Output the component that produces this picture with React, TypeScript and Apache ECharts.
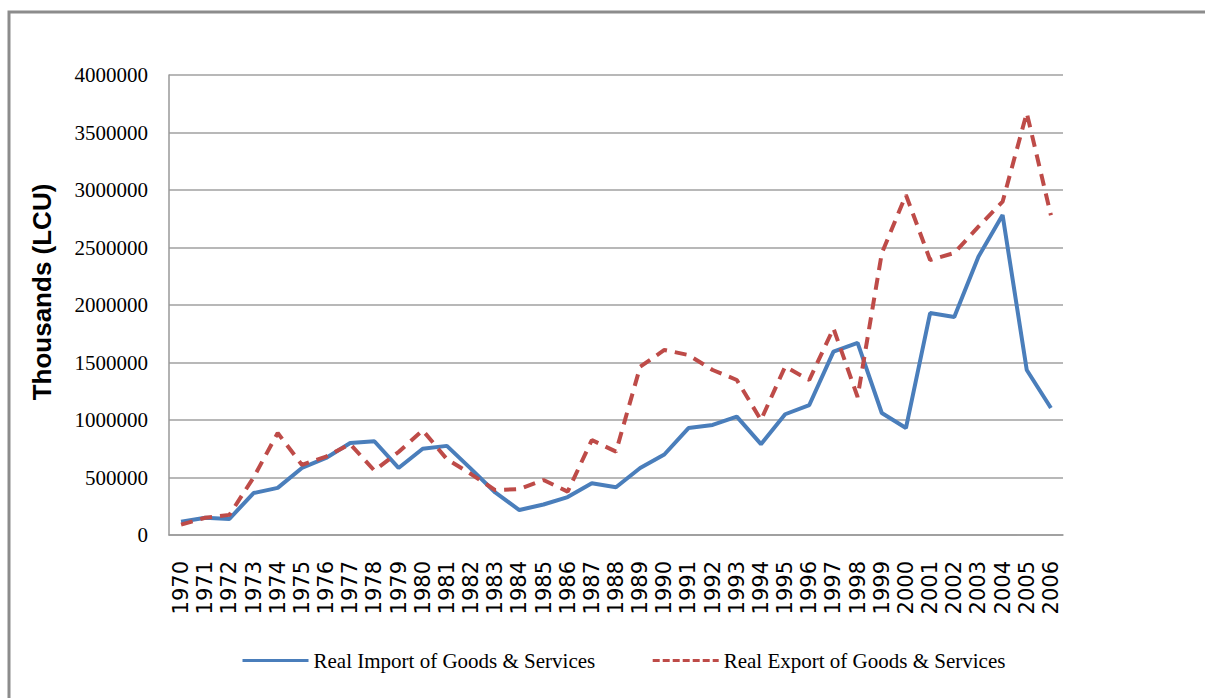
import React, { useEffect, useRef } from "react";
import * as echarts from "echarts";

const years = [
  "1970", "1971", "1972", "1973", "1974", "1975", "1976", "1977", "1978", "1979",
  "1980", "1981", "1982", "1983", "1984", "1985", "1986", "1987", "1988", "1989",
  "1990", "1991", "1992", "1993", "1994", "1995", "1996", "1997", "1998", "1999",
  "2000", "2001", "2002", "2003", "2004", "2005", "2006",
];

const importValues = [
  115000, 150000, 140000, 365000, 410000, 583000, 670000, 800000, 815000, 583000,
  750000, 775000, 575000, 370000, 217000, 265000, 330000, 450000, 415000, 583000,
  700000, 930000, 957000, 1029000, 790000, 1050000, 1130000, 1594000, 1670000, 1061000,
  930000, 1930000, 1896000, 2420000, 2783000, 1435000, 1104000,
];

const exportValues = [
  90000, 150000, 175000, 500000, 887000, 610000, 682000, 790000, 560000, 722000,
  910000, 660000, 530000, 390000, 400000, 478000, 377000, 826000, 725000, 1463000,
  1609000, 1565000, 1435000, 1348000, 1000000, 1464000, 1348000, 1797000, 1200000, 2450000,
  2957000, 2391000, 2452000, 2681000, 2898000, 3670000, 2780000,
];

const yTicks = { min: 0, max: 4000000, interval: 500000 };

const importName = "Real Import of Goods & Services";
const exportName = "Real Export of Goods & Services";

export default function App() {
  const ref = useRef<HTMLDivElement>(null);

  useEffect(() => {
    if (!ref.current) return;
    const chart = echarts.init(ref.current, null, { renderer: "svg" });
    chart.setOption({
      animation: false,
      backgroundColor: "#ffffff",
      grid: { left: 169, top: 75, right: 142, bottom: 163, containLabel: false },
      graphic: [
        {
          type: "rect",
          shape: { x: 9, y: 12, width: 1400, height: 900 },
          style: { fill: "none", stroke: "#8c8c8c", lineWidth: 3 },
          silent: true,
        },
        {
          type: "text",
          x: 42,
          y: 292,
          rotation: Math.PI / 2,
          style: {
            text: "Thousands (LCU)",
            font: "bold 26px 'Liberation Sans', Arial, sans-serif",
            fill: "#000000",
            align: "center",
            verticalAlign: "middle",
          },
        },
      ],
      legend: {
        top: 650,
        left: 241,
        padding: 0,
        itemWidth: 66,
        itemHeight: 14,
        itemGap: 56,
        itemTextGap: 5,
        itemStyle: { opacity: 0 },
        textStyle: {
          fontFamily: "'Liberation Serif', serif",
          fontSize: 21,
          color: "#000000",
        },
        data: [
          { name: importName, lineStyle: { width: 3 } },
          { name: exportName, lineStyle: { width: 3, type: [7, 3] } },
        ],
      },
      xAxis: {
        type: "category",
        data: years,
        boundaryGap: true,
        axisLine: { show: true, lineStyle: { color: "#999999", width: 1.5 } },
        axisTick: { show: false },
        axisLabel: {
          rotate: 90,
          margin: 26,
          interval: 0,
          fontFamily: "'DejaVu Sans', sans-serif",
          fontSize: 21,
          color: "#000000",
        },
      },
      yAxis: {
        type: "value",
        min: yTicks.min,
        max: yTicks.max,
        interval: yTicks.interval,
        axisLine: { show: true, lineStyle: { color: "#999999", width: 1.5 } },
        axisTick: { show: false },
        splitLine: { show: true, lineStyle: { color: "#a0a0a0", width: 1.5 } },
        axisLabel: {
          margin: 21,
          formatter: (v: number) => String(v),
          fontFamily: "'Liberation Serif', serif",
          fontSize: 21,
          color: "#000000",
        },
      },
      series: [
        {
          name: importName,
          type: "line",
          data: importValues,
          symbol: "none",
          lineStyle: { color: "#4a7ebb", width: 4 },
          itemStyle: { color: "#4a7ebb" },
        },
        {
          name: exportName,
          type: "line",
          data: exportValues,
          symbol: "none",
          lineStyle: { color: "#be4b48", width: 4, type: [12, 8] },
          itemStyle: { color: "#be4b48" },
        },
      ],
    });
    return () => chart.dispose();
  }, []);

  return (
    <div
      ref={ref}
      style={{ position: "fixed", left: 0, top: 0, width: 1205, height: 698 }}
    />
  );
}
